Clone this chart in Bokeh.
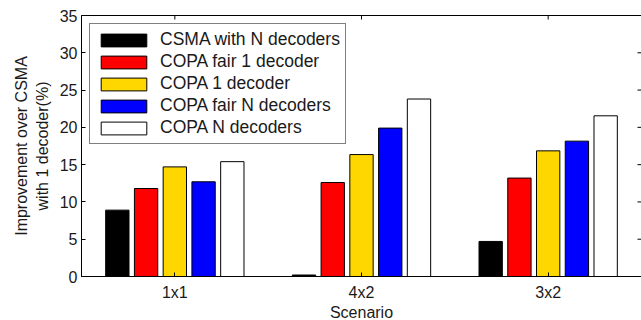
import math
from bokeh.plotting import figure
from bokeh.models import ColumnDataSource, FixedTicker, Range1d
from bokeh.transform import dodge
from bokeh.embed import file_html
from bokeh.resources import INLINE

# ---- data ----
scenarios = ["1x1", "4x2", "3x2"]
series_names = ["CSMA with N decoders", "COPA fair 1 decoder", "COPA 1 decoder",
                "COPA fair N decoders", "COPA N decoders"]
csma_n_decoders = [8.9, 0.2, 4.7]
copa_fair_1_decoder = [11.8, 12.6, 13.2]
copa_1_decoder = [14.7, 16.35, 16.85]
copa_fair_n_decoders = [12.7, 19.9, 18.15]
copa_n_decoders = [15.4, 23.8, 21.55]
y_ticks = [0, 5, 10, 15, 20, 25, 30, 35]

series_values = [csma_n_decoders, copa_fair_1_decoder, copa_1_decoder,
                 copa_fair_n_decoders, copa_n_decoders]
colors = ["#000000", "#FF0000", "#FFD700", "#0000FF", "#FFFFFF"]

FONT = "Liberation Sans"
FS = "16px"

x_pos = [1, 2, 3]
x_lo, x_hi = 0.5, 3.5
y_lo, y_hi = 0, 35

p = figure(width=654, height=323, x_range=Range1d(x_lo, x_hi), y_range=Range1d(y_lo, y_hi),
           output_backend="svg", toolbar_location=None,
           min_border_left=81, min_border_right=13, min_border_top=15, min_border_bottom=45)
p.background_fill_color = "white"
p.border_fill_color = "white"
p.outline_line_color = "black"
p.outline_line_width = 1
p.xgrid.visible = False
p.ygrid.visible = False

slot = 0.154
bw = 0.125
for i, (name, vals, col) in enumerate(zip(series_names, series_values, colors)):
    src = ColumnDataSource(dict(x=x_pos, top=vals))
    p.vbar(x=dodge("x", (i - 2) * slot), top="top", width=bw, bottom=0, source=src,
           fill_color=col, line_color="black", line_width=1, legend_label=name)

# mirrored inward ticks on the top and right edges
p.ray(x=[x_hi] * len(y_ticks), y=y_ticks, length=4, length_units="screen",
      angle=math.pi, line_color="black", line_width=1)
p.ray(x=x_pos, y=[y_hi] * len(x_pos), length=4, length_units="screen",
      angle=-math.pi / 2, line_color="black", line_width=1)

xa = p.xaxis[0]
xa.ticker = FixedTicker(ticks=x_pos)
xa.major_label_overrides = {x: s for x, s in zip(x_pos, scenarios)}
xa.axis_label = "Scenario"
ya = p.yaxis[0]
ya.ticker = FixedTicker(ticks=y_ticks)
ya.axis_label = "Improvement over CSMA\nwith 1 decoder(%)"

for ax in (xa, ya):
    ax.major_tick_in = 4
    ax.major_tick_out = 0
    ax.minor_tick_line_color = None
    ax.axis_line_color = "black"
    ax.major_label_text_font = FONT
    ax.major_label_text_font_size = FS
    ax.major_label_text_color = "#1a1a1a"
    ax.axis_label_text_font = FONT
    ax.axis_label_text_font_size = FS
    ax.axis_label_text_font_style = "normal"
    ax.axis_label_text_color = "#1a1a1a"
xa.major_label_standoff = 7
xa.axis_label_standoff = 0
ya.major_label_standoff = 4
ya.axis_label_standoff = 6

lg = p.legend[0]
lg.location = "top_left"
lg.margin = 8
lg.padding = 5
lg.spacing = 1
lg.glyph_width = 57
lg.glyph_height = 16
lg.label_height = 16
lg.label_standoff = 8
lg.label_text_font = FONT
lg.label_text_font_size = "17.5px"
lg.label_text_color = "#1a1a1a"
lg.border_line_color = "black"
lg.border_line_width = 1
lg.background_fill_color = "white"
lg.background_fill_alpha = 1.0

open("out.html", "w").write(file_html(p, INLINE))
